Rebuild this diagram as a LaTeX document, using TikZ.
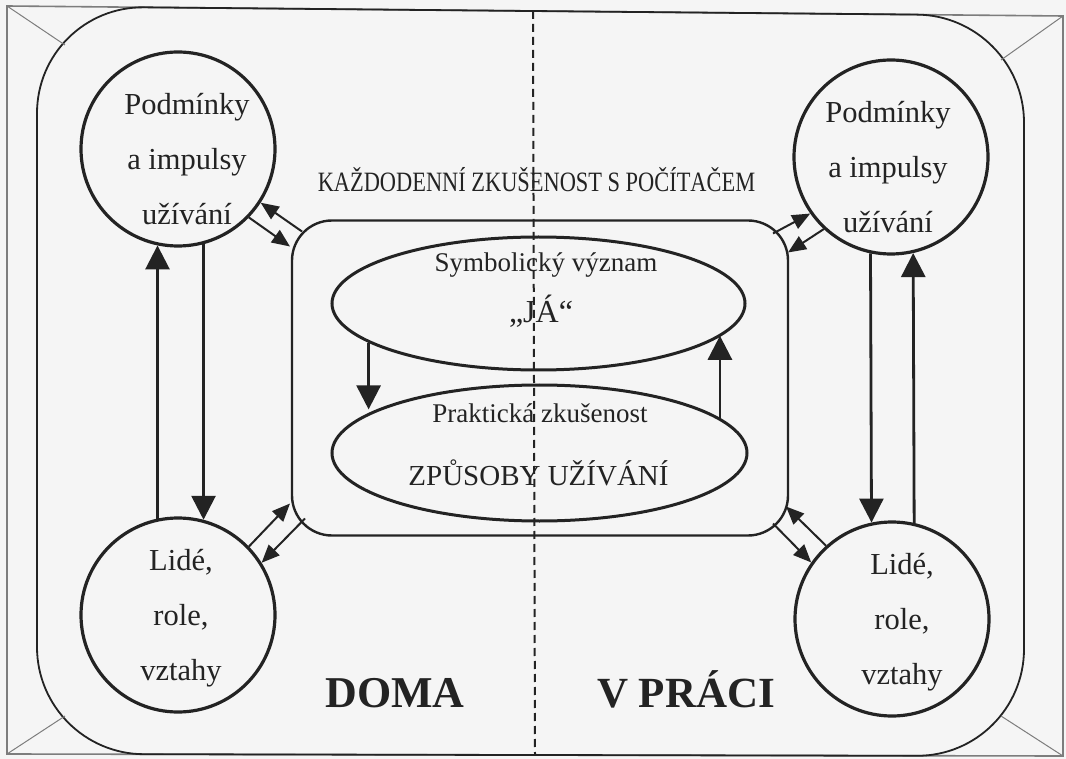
\documentclass[tikz,border=0pt]{standalone}
\usepackage{fontspec}
\setmainfont{Liberation Serif}[Kerning=Off]
\usepackage{graphicx}
\usetikzlibrary{arrows.meta,shapes.geometric,calc}
\definecolor{bg}{RGB}{245,245,245}
\definecolor{ink}{RGB}{35,35,35}
\definecolor{framegray}{RGB}{125,125,125}
\begin{document}
\begin{tikzpicture}[x=1pt,y=-1pt,
  ring/.style={draw=ink, line width=3.2pt, circle, minimum size=194pt, inner sep=0pt},
  oval/.style={draw=ink, line width=3pt, ellipse, inner sep=0pt},
  bigarr/.style={draw=ink, line width=2.8pt, -{Triangle[length=24pt,width=24pt]}},
  smallarr/.style={draw=ink, line width=2pt, -{Triangle[length=18pt,width=15pt]}},
  lbl/.style={anchor=base, inner sep=0pt, text=ink},
  circtext/.style={lbl, font=\fontsize{30.5}{55}\selectfont},
  framel/.style={draw=framegray, line width=1.6pt},
  diag/.style={draw=framegray, line width=1pt}
]
\fill[bg] (0,0) rectangle (1066,759);
% frame
\draw[framel] (7,6) -- (1063,16) -- (1063,756) -- (7,754) -- cycle;
\draw[ink, line width=1.8pt, rounded corners=107pt] (530,11) -- (1024,15.6) -- (1024,756) -- (37,754) -- (37,6.3) -- cycle;
\draw[diag] (7,6) -- (65,45);
\draw[diag] (1063,16) -- (1001,60);
\draw[diag] (7,754) -- (65,716);
\draw[diag] (1063,756) -- (1001,716);

% circles
\node[ring] (TL) at (178,149) {};
\node[ring] (TR) at (891,157) {};
\node[ring] (BL) at (178,615) {};
\node[ring] (BR) at (892,619) {};
\node[circtext] (TLt) at (187,115) {\begin{tabular}[t]{c}Podmínky\\a impulsy\\užívání\end{tabular}};
\node[circtext] (TRt) at (888,123) {\begin{tabular}[t]{c}Podmínky\\a impulsy\\užívání\end{tabular}};
\node[circtext] (BLt) at (181,570) {\begin{tabular}[t]{c}Lidé,\\role,\\vztahy\end{tabular}};
\node[circtext] (BRt) at (902,574) {\begin{tabular}[t]{c}Lidé,\\role,\\vztahy\end{tabular}};

% central box
\node[draw=ink, line width=2.4pt, rounded corners=40pt, minimum width=496pt, minimum height=315pt, inner sep=0pt, outer sep=0pt] (C) at (540,378) {};
\node[oval, minimum width=413pt, minimum height=133pt] (U) at (538.5,303.5) {};
\node[oval, minimum width=415pt, minimum height=136pt] (L) at (539.5,453) {};

% texts
\node[lbl, font=\fontsize{28}{30}\selectfont] (kz) at (536.5,192) {\scalebox{0.8}[1]{KAŽDODENNÍ ZKUŠENOST S POČÍTAČEM}};
\node[lbl, font=\fontsize{27}{30}\selectfont] (sv) at (546,272) {Symbolický význam};
\node[lbl, font=\fontsize{32}{34}\selectfont] (ja) at (541,323) {„JÁ“};
\node[lbl, font=\fontsize{27}{30}\selectfont] (pz) at (540,422) {Praktická zkušenost};
\node[lbl, font=\fontsize{29}{30}\selectfont] (zu) at (538.5,485) {ZPŮSOBY UŽÍVÁNÍ};
\node[lbl, font=\fontsize{44}{46}\selectfont\bfseries] (doma) at (395,707) {DOMA};
\node[lbl, font=\fontsize{43}{46}\selectfont\bfseries] (vp) at (686,707) {V PRÁCI};

% dashed divider
\draw[ink, line width=2pt, dash pattern=on 8pt off 5pt] (533,11) -- (535,755);

% vertical arrows between circles
\draw[bigarr] (BL.102.3) -- (TL.-102.3);
\draw[bigarr] (TL.-75.9) -- (BL.75.9);
\draw[bigarr] (TR.-102.3) -- (BR.102.3);
\draw[bigarr] (BR.77.7) -- (TR.-77.7);

% arrows between ellipses
\draw[bigarr] (U.193.6) -- (U.193.6 |- L.165.5);
\draw[bigarr] (L.11.7) -- (L.11.7 |- U.-10.9);

% small double arrows
\draw[smallarr] ($(C.north west)+(10,11)$) -- (TL.-33.4);
\draw[smallarr] (TL.-44.6) -- ($(C.north west)+(-2,26)$);
\draw[smallarr] ($(C.north east)+(-15,13)$) -- (TR.-145.8);
\draw[smallarr] (TR.-133.7) -- ($(C.north east)+(0,32)$);
\draw[smallarr] (BL.44.2) -- ($(C.south west)+(-2,-32)$);
\draw[smallarr] ($(C.south west)+(13,-17)$) -- (BL.32.9);
\draw[smallarr] (BR.132.5) -- ($(C.south east)+(-2,-29)$);
\draw[smallarr] ($(C.south east)+(-15,-12)$) -- (BR.145.8);
\end{tikzpicture}
\end{document}
